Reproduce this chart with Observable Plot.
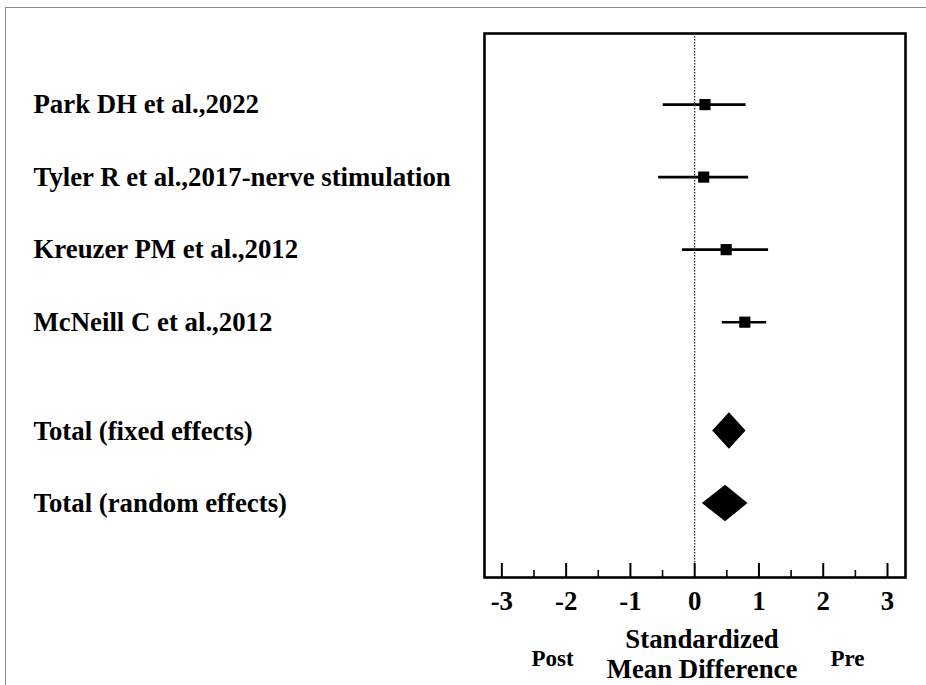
<!DOCTYPE html>
<html>
<head>
<meta charset="utf-8">
<script src="https://cdn.jsdelivr.net/npm/d3@7"></script>
<script src="https://cdn.jsdelivr.net/npm/@observablehq/plot@0.6"></script>
<style>
  html, body { margin: 0; padding: 0; background: #fff; width: 926px; height: 685px; overflow: hidden; }
  #border { position: absolute; left: 5px; top: 7px; width: 1000px; height: 1000px;
            border-left: 1px solid #8a8a8a; border-top: 1px solid #8a8a8a; }
  #chart { position: absolute; left: 0; top: 0; }
  svg { font-family: "Liberation Serif", "Times New Roman", serif; }
</style>
</head>
<body>
<div id="border"></div>
<div id="chart"></div>
<script>
// Study-level data (standardized mean difference, 95% CI)
const studies = ["Park DH et al.,2022", "Tyler R et al.,2017-nerve stimulation", "Kreuzer PM et al.,2012", "McNeill C et al.,2012"];
const studyRows = [0, 1, 2, 3];
const studyEst = [0.16, 0.14, 0.49, 0.78];
const studyLo = [-0.49, -0.56, -0.19, 0.43];
const studyHi = [0.80, 0.84, 1.15, 1.12];

// Pooled estimates
const pooled = ["Total (fixed effects)", "Total (random effects)"];
const pooledRows = [4.5, 5.5];
const pooledEst = [0.54, 0.48];
const pooledLo = [0.28, 0.12];
const pooledHi = [0.80, 0.83];
const diamondHalf = 0.252;

// Axis ticks
const majorTicks = [-3, -2, -1, 0, 1, 2, 3];
const minorTicks = [-2.5, -1.5, -0.5, 0.5, 1.5, 2.5];

const studyData = studies.map((label, i) => ({label, row: studyRows[i], est: studyEst[i], lo: studyLo[i], hi: studyHi[i]}));
const pooledData = pooled.map((label, i) => ({label, row: pooledRows[i], est: pooledEst[i], lo: pooledLo[i], hi: pooledHi[i]}));
const diamondPts = pooledData.flatMap(d => [
  {label: d.label, x: d.lo, y1: d.row, y2: d.row},
  {label: d.label, x: d.est, y1: d.row - diamondHalf, y2: d.row + diamondHalf},
  {label: d.label, x: d.hi, y1: d.row, y2: d.row}
]);
const allLabels = [...studyData, ...pooledData];

const chart = Plot.plot({
  width: 926,
  height: 685,
  marginLeft: 484,
  marginRight: 21,
  marginTop: 33,
  marginBottom: 108,
  style: {fontFamily: '"Liberation Serif", "Times New Roman", serif', background: "transparent"},
  x: {domain: [-3.27, 3.28], label: null},
  y: {domain: [-0.98, 6.52], reverse: true, axis: null},
  marks: [
    Plot.ruleX([0], {stroke: "#222", strokeWidth: 1.2, strokeDasharray: "1.5,1.5"}),
    Plot.ruleY(studyData, {y: "row", x1: "lo", x2: "hi", stroke: "black", strokeWidth: 2.6}),
    Plot.dot(studyData, {x: "est", y: "row", symbol: "square", r: 6.3, fill: "black", stroke: null}),
    Plot.areaY(diamondPts, {x: "x", y1: "y1", y2: "y2", z: "label", fill: "black", curve: "linear"}),
    Plot.text(allLabels, {y: "row", text: "label", frameAnchor: "left", dx: -451, textAnchor: "start",
      fontSize: 26.8, fontWeight: "bold", fill: "black"}),
    Plot.axisX(majorTicks, {tickSize: -14, tickFormat: () => "", strokeWidth: 2, label: null}),
    Plot.axisX(minorTicks, {tickSize: -7, tickFormat: () => "", strokeWidth: 1.6, label: null}),
    Plot.axisX(majorTicks, {tickSize: 0, tickPadding: 13, fontSize: 26.8, fontWeight: "bold", fill: "black",
      tickFormat: d => d < 0 ? "-" + Math.abs(d) : String(d), label: null}),
    Plot.frame({stroke: "black", strokeWidth: 2.6}),
    Plot.text(["Standardized\nMean Difference"], {frameAnchor: "bottom", dx: 7, dy: 49, lineAnchor: "top",
      lineHeight: 1.12, fontSize: 26.8, fontWeight: "bold", fill: "black", textAnchor: "middle"}),
    Plot.text(["Post"], {frameAnchor: "bottom-left", dx: 68, dy: 71.7, lineAnchor: "top",
      fontSize: 23, fontWeight: "bold", fill: "black", textAnchor: "middle"}),
    Plot.text(["Pre"], {frameAnchor: "bottom-right", dx: -58, dy: 71.7, lineAnchor: "top",
      fontSize: 23, fontWeight: "bold", fill: "black", textAnchor: "middle"})
  ]
});
document.getElementById("chart").appendChild(chart);
</script>
</body>
</html>
